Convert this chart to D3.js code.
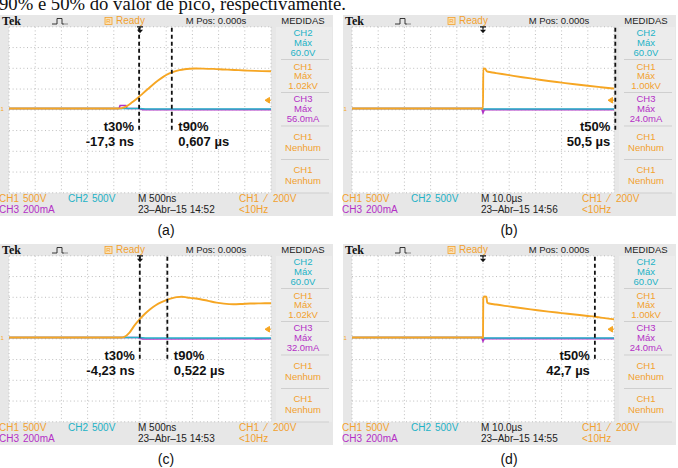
<!DOCTYPE html>
<html><head><meta charset="utf-8">
<script src="https://cdn.jsdelivr.net/npm/d3@7"></script>
<style>body{margin:0;background:#fff}svg{display:block}</style>
</head><body>
<svg id="c" width="678" height="468"></svg>
<script>
// ---------- data ----------
const captionText = "90% e 50% do valor de pico, respectivamente.";
const panelLabels = ["(a)", "(b)", "(c)", "(d)"];
const timePerDiv = [0.5, 10, 0.5, 10];               // µs per division
const timebaseLabels = ["M 500ns", "M 10.0µs", "M 500ns", "M 10.0µs"];
const dateLabels = ["23–Abr–15 14:52", "23–Abr–15 14:56", "23–Abr–15 14:53", "23–Abr–15 14:55"];
const ch2MaxLabels = ["60.0V", "60.0V", "60.0V", "60.0V"];
const ch1MaxLabels = ["1.02kV", "1.00kV", "1.02kV", "1.00kV"];
const ch3MaxLabels = ["56.0mA", "24.0mA", "32.0mA", "24.0mA"];
const voltsPerDiv = 500, ampsPerDiv = 200, triggerLevel = 200;

const cursorNames  = [["t30%", "t90%"], ["t50%"], ["t30%", "t90%"], ["t50%"]];
const cursorTimes  = [[-0.0173, 0.607], [50.5], [-0.00423, 0.522], [42.7]];
const cursorValues = [["-17,3 ns", "0,607 µs"], ["50,5 µs"], ["-4,23 ns", "0,522 µs"], ["42,7 µs"]];
const cursorSides  = [["left", "right"], ["left"], ["left", "right"], ["left"]];

// CH1 voltage [t µs, V]
const ch1A = [[-2.5,0],[-0.42,0],[-0.35,10],[-0.25,60],[-0.15,150],[-0.05,250],[0.05,360],[0.15,470],[0.25,580],[0.35,680],[0.45,770],[0.55,840],[0.65,890],[0.75,925],[0.85,948],[0.95,960],[1.05,965],[1.2,963],[1.4,955],[1.6,942],[1.8,930],[2.0,918],[2.2,908],[2.5,900]];
const ch1B = [[-50,0],[-0.2,0],[0,0],[0.1,965],[0.8,960],[1.5,895],[3,875],[5,855],[10,805],[15,755],[20,710],[25,665],[30,625],[35,585],[40,548],[45,514],[50,482]];
const ch1C = [[-2.5,0],[-0.36,0],[-0.3,15],[-0.2,120],[-0.1,300],[0,450],[0.1,580],[0.2,690],[0.3,780],[0.4,850],[0.5,900],[0.6,945],[0.7,975],[0.8,985],[0.9,965],[1.0,950],[1.15,924],[1.3,885],[1.46,843],[1.6,818],[1.78,803],[1.95,810],[2.1,819],[2.3,824],[2.5,827]];
const ch1D = [[-50,0],[-0.2,0],[0,0],[0.1,950],[0.6,990],[1.3,985],[1.6,840],[2,827],[5,795],[10,750],[15,705],[20,665],[25,625],[30,590],[35,555],[40,520],[42.7,500],[45,480],[50,440]];
// CH2 voltage [t µs, V]
const ch2A = [[-2.5,0],[0,0],[0.1,-12],[2.5,-12]];
const ch2B = [[-50,0],[0,0],[0.3,-12],[50,-12]];
const ch2C = [[-2.5,0],[0,0],[0.1,-10],[2.5,-10]];
const ch2D = [[-50,0],[0,0],[0.3,-10],[50,-10]];
// CH3 current [t µs, mA]
const ch3A = [[-2.5,0],[-0.4,0],[-0.38,30],[-0.27,30],[-0.25,2],[-0.02,0],[0.05,-10],[2.5,-10]];
const ch3B = [[-50,0],[-0.5,0],[0,-40],[0.5,-10],[50,-10]];
const ch3C = [[-2.5,0],[-0.05,0],[0.05,-14],[2.5,-12]];
const ch3D = [[-50,0],[-0.5,0],[0,-35],[0.5,-10],[50,-10]];

const ch1Data = [ch1A, ch1B, ch1C, ch1D];
const ch2Data = [ch2A, ch2B, ch2C, ch2D];
const ch3Data = [ch3A, ch3B, ch3C, ch3D];

// ---------- layout ----------
const offsets = [[0,0],[343,0],[0,229],[343,229]];
const C1 = "#f6a623", C2 = "#25b4c8", C3 = "#b032c6";
const T1 = "#f2a12e", T2 = "#22b2c6", T3 = "#b42fc6";
const P = {L:9, R:271, T:26.8, B:192.8};
const GROUND = 0.06; // div above centre
const sans = "'Liberation Sans', Arial, sans-serif";

const svg = d3.select("#c");
svg.append("text").attr("x", -1).attr("y", 9.5)
  .attr("font-family", "'Liberation Serif','DejaVu Serif',serif").attr("font-size", 18)
  .attr("textLength", 347).attr("lengthAdjust", "spacingAndGlyphs")
  .attr("fill", "#111").text(captionText);

const xDiv = d3.scaleLinear().domain([-5,5]).range([P.L, P.R]);
const yDiv = d3.scaleLinear().domain([-4,4]).range([P.B, P.T]);

panelLabels.forEach((lab, i) => {
  const g = svg.append("g").attr("transform", `translate(${offsets[i][0]},${offsets[i][1]})`);
  // frame
  g.append("rect").attr("x", 0).attr("y", 15).attr("width", 333).attr("height", 201).attr("fill", "#e7e7e7");
  g.append("rect").attr("x", 276).attr("y", 26.8).attr("width", 56).attr("height", 166).attr("fill", "#ececec");
  g.append("rect").attr("x", P.L).attr("y", P.T).attr("width", P.R-P.L).attr("height", P.B-P.T).attr("fill", "#fff");
  // grid
  const grid = g.append("g").attr("stroke", "#bdbdbd").attr("stroke-width", 1).attr("stroke-dasharray", "1,2.6");
  d3.range(-5, 6).forEach(d => grid.append("line").attr("x1", xDiv(d)).attr("x2", xDiv(d)).attr("y1", P.T).attr("y2", P.B));
  d3.range(-4, 5).forEach(d => grid.append("line").attr("x1", P.L).attr("x2", P.R).attr("y1", yDiv(d)).attr("y2", yDiv(d)));

  const tpd = timePerDiv[i];
  const xT = d3.scaleLinear().domain([-5*tpd, 5*tpd]).range([P.L, P.R]);
  const yV = d3.scaleLinear().domain([(-4-GROUND)*voltsPerDiv, (4-GROUND)*voltsPerDiv]).range([P.B, P.T]);
  const yI = d3.scaleLinear().domain([(-4-GROUND)*ampsPerDiv, (4-GROUND)*ampsPerDiv]).range([P.B, P.T]);

  const clipId = "clip" + i;
  g.append("clipPath").attr("id", clipId).append("rect")
    .attr("x", P.L).attr("y", P.T).attr("width", P.R-P.L).attr("height", P.B-P.T);
  const tr = g.append("g").attr("clip-path", `url(#${clipId})`).attr("fill", "none");
  const lineV = d3.line().x(d => xT(d[0])).y(d => yV(d[1]));
  const lineI = d3.line().x(d => xT(d[0])).y(d => yI(d[1]));
  tr.append("path").attr("d", lineI(ch3Data[i])).attr("stroke", C3).attr("stroke-width", 1.6);
  tr.append("path").attr("d", lineV(ch2Data[i])).attr("stroke", C2).attr("stroke-width", 1.6);
  tr.append("path").attr("d", lineV.curve(d3.curveMonotoneX)(ch1Data[i])).attr("stroke", C1).attr("stroke-width", 1.9);

  // ground marker & trigger level
  g.append("text").attr("x", 0.5).attr("y", yV(0)+2.5).attr("font-family", sans).attr("font-size", 6).attr("fill", C1).text("1");
  const ty = yV(triggerLevel);
  g.append("path").attr("d", `M${P.R-6},${ty} L${P.R-1.5},${ty-2.8} L${P.R-1.5},${ty+2.8} Z M${P.R-2},${ty} H${P.R}`)
    .attr("fill", C1).attr("stroke", C1).attr("stroke-width", 1);
  // trigger position arrow
  const x0 = xT(0);
  g.append("path").attr("d", `M${x0-3},${P.T} H${x0+3} M${x0},${P.T} V${P.T+3}`).attr("stroke", "#111").attr("stroke-width", 1.2);
  g.append("path").attr("d", `M${x0-3},${P.T+3} L${x0+3},${P.T+3} L${x0},${P.T+6.5} Z`).attr("fill", "#111");

  // cursors and labels
  cursorTimes[i].forEach((t, k) => {
    const cx = xT(t);
    g.append("line").attr("x1", cx).attr("x2", cx).attr("y1", P.T+1).attr("y2", 130)
      .attr("stroke", "#111").attr("stroke-width", 1.8).attr("stroke-dasharray", "4,3");
    const left = cursorSides[i][k] === "left";
    const tx = left ? cx - 5 : cx + 6.5;
    const anchor = left ? "end" : "start";
    g.append("text").attr("x", tx).attr("y", 130.5).attr("text-anchor", anchor)
      .attr("font-family", sans).attr("font-weight", "bold").attr("font-size", 13).attr("fill", "#111").text(cursorNames[i][k]);
    g.append("text").attr("x", tx).attr("y", 146).attr("text-anchor", anchor)
      .attr("font-family", sans).attr("font-weight", "bold").attr("font-size", 13).attr("fill", "#111").text(cursorValues[i][k]);
  });

  // header
  g.append("text").attr("x", 2).attr("y", 24.5).attr("font-family", "'Liberation Serif','DejaVu Serif',serif")
    .attr("font-weight", "bold").attr("font-size", 12).attr("fill", "#111").text("Tek");
  g.append("path").attr("d", "M52,24 H57 V18.5 H62 V24 H64").attr("fill", "none").attr("stroke", "#222").attr("stroke-width", 0.9);
  g.append("path").attr("d", "M64.5,24 H68").attr("stroke", "#222").attr("stroke-width", 0.9).attr("stroke-dasharray", "1,1");
  g.append("rect").attr("x", 105).attr("y", 17.5).attr("width", 7).attr("height", 7).attr("fill", "#fbe3b8").attr("stroke", T1).attr("stroke-width", 0.8);
  g.append("text").attr("x", 108.5).attr("y", 23.3).attr("text-anchor", "middle").attr("font-family", sans).attr("font-size", 6).attr("fill", T1).text("R");
  g.append("text").attr("x", 116).attr("y", 24).attr("font-family", sans).attr("font-size", 10).attr("fill", T1).text("Ready");
  g.append("text").attr("x", 216).attr("y", 23.5).attr("text-anchor", "middle").attr("font-family", sans).attr("font-size", 9.5).attr("fill", "#222").text("M Pos: 0.000s");
  g.append("text").attr("x", 303).attr("y", 23.5).attr("text-anchor", "middle").attr("font-family", sans).attr("font-size", 9.5).attr("fill", "#222").text("MEDIDAS");

  // MEDIDAS side panel
  const side = [
    {c:T2, lines:["CH2", "Máx", ch2MaxLabels[i]], ys:[35.5, 45.5, 55.5]},
    {c:T1, lines:["CH1", "Máx", ch1MaxLabels[i]], ys:[69.5, 79, 89]},
    {c:T3, lines:["CH3", "Máx", ch3MaxLabels[i]], ys:[102, 112, 122]},
    {c:T1, lines:["CH1", "Nenhum"], ys:[139.5, 150.5]},
    {c:T1, lines:["CH1", "Nenhum"], ys:[173, 184]}
  ];
  side.forEach(s => s.lines.forEach((t, k) => g.append("text").attr("x", 303).attr("y", s.ys[k]).attr("text-anchor", "middle")
    .attr("font-family", sans).attr("font-size", 9.5).attr("fill", s.c).text(t)));
  [59.5, 92.5, 126, 159.5, 193].forEach(y => g.append("line").attr("x1", 281).attr("x2", 329).attr("y1", y).attr("y2", y)
    .attr("stroke", "#cfcfcf").attr("stroke-width", 1));

  // footer
  const foot = (x, y, t, c) => g.append("text").attr("x", x).attr("y", y).attr("font-family", sans).attr("font-size", 10).attr("fill", c).text(t);
  foot(-1, 202, "CH1", T1); foot(23, 202, "500V", T1);
  foot(68, 202, "CH2", T2); foot(92, 202, "500V", T2);
  foot(138, 202, timebaseLabels[i], "#222");
  foot(239, 202, "CH1", T1); foot(265, 202, "⁄", T1); foot(273, 202, "200V", T1);
  foot(-1, 213, "CH3", T3); foot(23, 213, "200mA", T3);
  foot(138, 213, dateLabels[i], "#222");
  foot(239, 213, "<10Hz", T1);

  // panel label
  g.append("text").attr("x", 166).attr("y", 234.5).attr("text-anchor", "middle").attr("font-family", sans)
    .attr("font-size", 14).attr("fill", "#111").text(lab);
});
</script>
</body></html>
